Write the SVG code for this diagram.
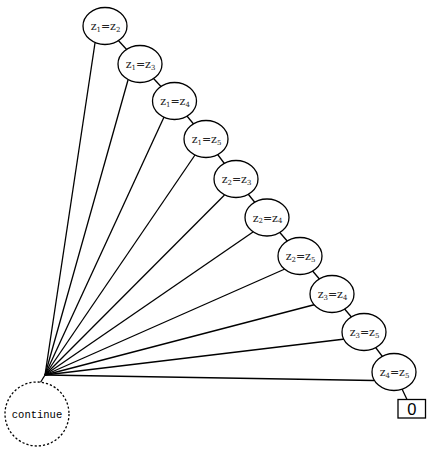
<svg xmlns="http://www.w3.org/2000/svg" width="431" height="456" viewBox="0 0 431 456">
<style>
.edge{stroke:#000;stroke-width:1.3;fill:none}
.node ellipse{fill:#fff;stroke:#000;stroke-width:1.3}
.lbl{font-family:"DejaVu Serif","Liberation Serif",serif;font-size:11px;text-anchor:middle;fill:#222}
.sub{font-size:7px}
.cont{fill:#fff;stroke:#000;stroke-width:1.3;stroke-dasharray:2.2 2}
.mono{font-family:"Liberation Mono",monospace;font-size:10.5px;text-anchor:middle;fill:#000}
.box{fill:#fff;stroke:#000;stroke-width:1.3}
.zero{font-family:"Liberation Sans",sans-serif;font-size:16.5px;text-anchor:middle;fill:#000}
</style>
<g id="connectors">
<line class="edge" x1="45" y1="375" x2="95" y2="43"/>
<line class="edge" x1="45" y1="375" x2="128" y2="80"/>
<line class="edge" x1="45" y1="375" x2="164.5" y2="116"/>
<line class="edge" x1="45" y1="375" x2="195" y2="155"/>
<line class="edge" x1="45" y1="375" x2="224.5" y2="195"/>
<line class="edge" x1="45" y1="375" x2="253" y2="232"/>
<line class="edge" x1="45" y1="375" x2="286" y2="268.5"/>
<line class="edge" x1="45" y1="375" x2="317" y2="304"/>
<line class="edge" x1="45" y1="375" x2="345" y2="339"/>
<line class="edge" x1="45" y1="375" x2="374" y2="380.5"/>
<line class="edge" x1="45" y1="375" x2="39.5" y2="384"/>
<line class="edge" x1="105" y1="26" x2="140" y2="64"/>
<line class="edge" x1="140" y1="64" x2="174.5" y2="101"/>
<line class="edge" x1="174.5" y1="101" x2="206" y2="139"/>
<line class="edge" x1="206" y1="139" x2="236" y2="179"/>
<line class="edge" x1="236" y1="179" x2="267" y2="217.5"/>
<line class="edge" x1="267" y1="217.5" x2="300" y2="256"/>
<line class="edge" x1="300" y1="256" x2="332" y2="294"/>
<line class="edge" x1="332" y1="294" x2="364" y2="332"/>
<line class="edge" x1="364" y1="332" x2="394" y2="372"/>
<line class="edge" x1="394" y1="372" x2="411" y2="408"/>
</g>
<g id="n1" class="node"><ellipse cx="105" cy="26" rx="22" ry="18.5"/><text class="lbl" x="105.5" y="30">z<tspan class="sub" dy="1.5">1</tspan><tspan dy="-1.5">=z</tspan><tspan class="sub" dy="1.5">2</tspan></text></g>
<g id="n2" class="node"><ellipse cx="140" cy="64" rx="22" ry="18.5"/><text class="lbl" x="140.5" y="68">z<tspan class="sub" dy="1.5">1</tspan><tspan dy="-1.5">=z</tspan><tspan class="sub" dy="1.5">3</tspan></text></g>
<g id="n3" class="node"><ellipse cx="174.5" cy="101" rx="22" ry="18.5"/><text class="lbl" x="175" y="105">z<tspan class="sub" dy="1.5">1</tspan><tspan dy="-1.5">=z</tspan><tspan class="sub" dy="1.5">4</tspan></text></g>
<g id="n4" class="node"><ellipse cx="206" cy="139" rx="22" ry="18.5"/><text class="lbl" x="206.5" y="143">z<tspan class="sub" dy="1.5">1</tspan><tspan dy="-1.5">=z</tspan><tspan class="sub" dy="1.5">5</tspan></text></g>
<g id="n5" class="node"><ellipse cx="236" cy="179" rx="22" ry="18.5"/><text class="lbl" x="236.5" y="183">z<tspan class="sub" dy="1.5">2</tspan><tspan dy="-1.5">=z</tspan><tspan class="sub" dy="1.5">3</tspan></text></g>
<g id="n6" class="node"><ellipse cx="267" cy="217.5" rx="22" ry="18.5"/><text class="lbl" x="267.5" y="221.5">z<tspan class="sub" dy="1.5">2</tspan><tspan dy="-1.5">=z</tspan><tspan class="sub" dy="1.5">4</tspan></text></g>
<g id="n7" class="node"><ellipse cx="300" cy="256" rx="22" ry="18.5"/><text class="lbl" x="300.5" y="260">z<tspan class="sub" dy="1.5">2</tspan><tspan dy="-1.5">=z</tspan><tspan class="sub" dy="1.5">5</tspan></text></g>
<g id="n8" class="node"><ellipse cx="332" cy="294" rx="22" ry="18.5"/><text class="lbl" x="332.5" y="298">z<tspan class="sub" dy="1.5">3</tspan><tspan dy="-1.5">=z</tspan><tspan class="sub" dy="1.5">4</tspan></text></g>
<g id="n9" class="node"><ellipse cx="364" cy="332" rx="22" ry="18.5"/><text class="lbl" x="364.5" y="336">z<tspan class="sub" dy="1.5">3</tspan><tspan dy="-1.5">=z</tspan><tspan class="sub" dy="1.5">5</tspan></text></g>
<g id="n10" class="node"><ellipse cx="394" cy="372" rx="22" ry="18.5"/><text class="lbl" x="394.5" y="376">z<tspan class="sub" dy="1.5">4</tspan><tspan dy="-1.5">=z</tspan><tspan class="sub" dy="1.5">5</tspan></text></g>
<g id="leaf0"><rect class="box" x="398" y="399.5" width="27.5" height="18.5"/><text class="zero" x="411.8" y="415">0</text></g>
<g id="continue"><circle class="cont" cx="37" cy="414" r="32"/><text class="mono" x="37" y="417.5">continue</text></g>
</svg>
